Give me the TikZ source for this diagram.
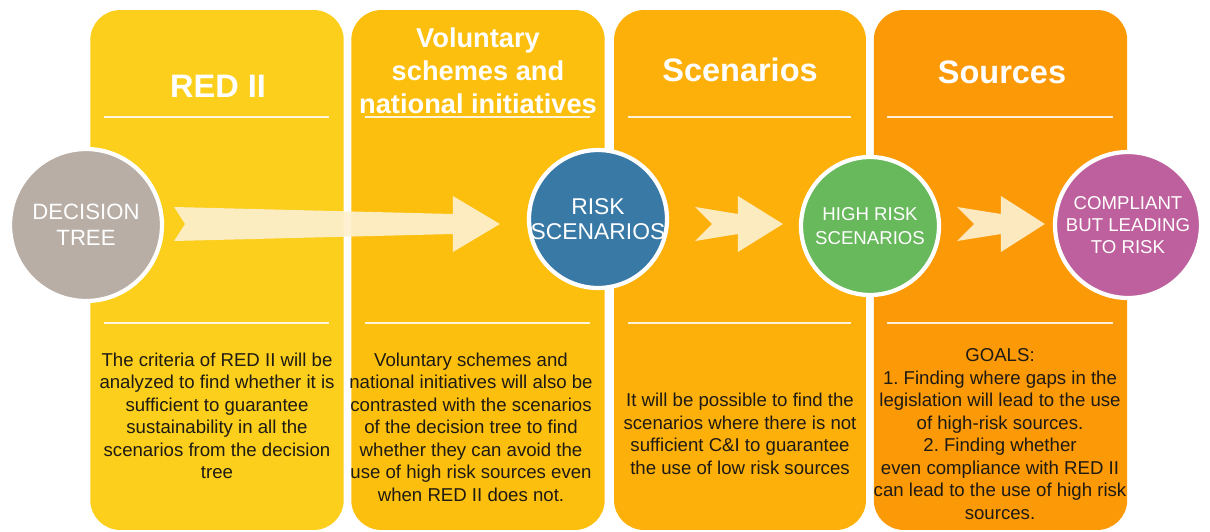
\documentclass[tikz,border=0pt]{standalone}
\usepackage{fontspec}
\setmainfont{Liberation Sans}
\usetikzlibrary{positioning, calc}
\frenchspacing

\definecolor{redyellow}{RGB}{251,207,28}
\definecolor{volyellow}{RGB}{253,191,14}
\definecolor{scenorange}{RGB}{253,176,10}
\definecolor{srcorange}{RGB}{252,153,6}
\definecolor{treegrey}{RGB}{184,174,166}
\definecolor{riskblue}{RGB}{57,121,166}
\definecolor{highgreen}{RGB}{104,184,92}
\definecolor{compliantpink}{RGB}{190,96,157}
\definecolor{cream}{RGB}{253,240,206}
\definecolor{bodyink}{RGB}{30,26,20}

% broad arrow with a notched tail: tail, head base, tip, notch depth
\newcommand{\fatarrow}[4]{%
  \fill[fat] ([yshift=-0.34cm]#1) -- ([xshift=#4]#1) -- ([yshift=0.34cm]#1)
    -- ([yshift=0.2cm]#2) -- ([yshift=0.56cm]#2) -- (#3)
    -- ([yshift=-0.56cm]#2) -- ([yshift=-0.2cm]#2) -- cycle;
}

\begin{document}
\begin{tikzpicture}[
    x=0.02cm, y=-0.02cm,
    panel/.style={rectangle, rounded corners=0.6cm, minimum width=5.07cm, minimum height=10.4cm, inner sep=0pt},
    heading/.style={text=white, font=\bfseries\fontsize{18.5}{22}\selectfont, align=center},
    rule/.style={white, line width=1.1pt, opacity=0.85},
    body/.style={text=bodyink, font=\fontsize{10.6}{12.8}\selectfont, align=center},
    stage/.style={circle, draw=white, line width=2.4pt, inner sep=0pt, align=center, text=white,
                  font=\fontsize{10.6}{12.5}\selectfont},
    fat/.style={fill=cream, opacity=0.93}
]
\useasboundingbox (0,0) rectangle (1210,531);

% the four columns
\node[panel, fill=redyellow] (red) at (217,270) {};
\node[panel, fill=volyellow] (vol) at (478,270) {};
\node[panel, fill=scenorange, minimum width=5.04cm] (scen) at (740,270) {};
\node[panel, fill=srcorange] (src) at (1000.5,270) {};

\foreach \p in {red, vol, scen, src} {
  \draw[rule] ([xshift=0.28cm, yshift=-2.14cm]\p.north west) -- ([xshift=-0.3cm, yshift=-2.14cm]\p.north east);
  \draw[rule] ([xshift=0.28cm, yshift=-6.26cm]\p.north west) -- ([xshift=-0.3cm, yshift=-6.26cm]\p.north east);
}

% column headings
\node[heading] (redT) at (218,86) {RED II};
\node[heading, font=\bfseries\fontsize{15.5}{18.8}\selectfont] (volT) at (478,71) {Voluntary\\schemes and\\national initiatives};
\node[heading] (scenT) at (740,70) {Scenarios};
\node[heading] (srcT) at (1002,72) {Sources};

% column texts
\node[body] (redB) at (217,416) {The criteria of RED II will be\\analyzed to find whether it is\\sufficient to guarantee\\sustainability in all the\\scenarios from the decision\\tree};
\node[body] (volB) at (471,427) {Voluntary schemes and\\national initiatives will also be\\contrasted with the scenarios\\of the decision tree to find\\whether they can avoid the\\use of high risk sources even\\when RED II does not.};
\node[body] (scenB) at (740,434) {It will be possible to find the\\scenarios where there is not\\sufficient C\&I to guarantee\\the use of low risk sources};
\node[body] (srcB) at (1000,434) {GOALS:\\1. Finding where gaps in the\\legislation will lead to the use\\of high-risk sources.\\2. Finding whether\\even compliance with RED II\\can lead to the use of high risk\\sources.};

% stages
\node[stage, fill=treegrey, minimum size=3.04cm, font=\fontsize{12.6}{14.8}\selectfont] (dt) at (86,225) {DECISION\\TREE};
\node[stage, fill=riskblue, minimum size=2.76cm, inner sep=-4pt, font=\fontsize{13}{14.3}\selectfont] (risk) at (598,219) {RISK\\SCENARIOS};
\node[stage, fill=highgreen, minimum size=2.76cm, font=\fontsize{10.6}{13.6}\selectfont] (high) at (870,226) {HIGH RISK\\SCENARIOS};
\node[stage, fill=compliantpink, minimum size=2.92cm] (comp) at (1128,225) {COMPLIANT\\BUT LEADING\\TO RISK};

% arrows between the stages
\coordinate (axis) at (0,224);
\path (dt.east |- axis) ++(10,0) coordinate (t1);
\path (risk.west |- axis) ++(-27,0) coordinate (p1) ++(-47,0) coordinate (h1);
\path (risk.east |- axis) ++(26,0) coordinate (t2);
\path (high.west |- axis) ++(-16,0) coordinate (p2) ++(-45,0) coordinate (h2);
\path (high.east |- axis) ++(16,0) coordinate (t3);
\path (comp.west |- axis) ++(-8,0) coordinate (p3) ++(-44,0) coordinate (h3);

\fatarrow{t1}{h1}{p1}{0.22cm}
\fatarrow{t2}{h2}{p2}{0.34cm}
\fatarrow{t3}{h3}{p3}{0.34cm}
\end{tikzpicture}
\end{document}
